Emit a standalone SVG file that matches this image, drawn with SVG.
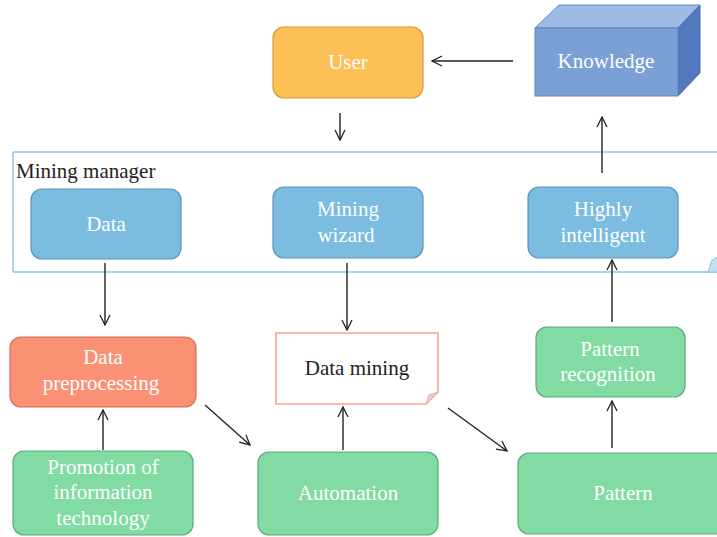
<svg xmlns="http://www.w3.org/2000/svg" width="717" height="537" viewBox="0 0 717 537">
  <defs>
    <marker id="open" viewBox="0 0 12 12" refX="11" refY="6" markerWidth="12" markerHeight="12" markerUnits="userSpaceOnUse" orient="auto">
      <path d="M1,1 L11,6 L1,11" fill="none" stroke="#222" stroke-width="1.3"/>
    </marker>
  </defs>
  <style>
    text { font-family: "Liberation Serif", "DejaVu Serif", serif; font-size: 21px; text-anchor: middle; }
    .w { fill: #ffffff; }
    .k { fill: #222222; }
    .blue { fill: #7bbce0; stroke: #5a95bd; stroke-width: 1.2; }
    .green { fill: #82dba2; stroke: #5aab78; stroke-width: 1.2; }
    .orange { fill: #fdc056; stroke: #d49a3a; stroke-width: 1.2; }
    .salmon { fill: #fb9174; stroke: #d5705a; stroke-width: 1.2; }
    .conn line { stroke: #222; stroke-width: 1.4; marker-end: url(#open); }
  </style>
  <rect width="717" height="537" fill="#ffffff"/>

  <!-- Mining manager frame -->
  <g id="mining-manager">
    <path d="M13,152 L720,152 M720,272 L13,272 Z" fill="none" stroke="#8cc6e8" stroke-width="1.4"/>
    <path d="M13,152 L13,272" stroke="#8cc6e8" stroke-width="1.4"/>
    <path d="M708,272 L712,260 L718,257 L718,272 Z" fill="#c8dff0" stroke="#8cc6e8" stroke-width="1"/>
    <text x="16" y="178" class="k" style="text-anchor:start">Mining manager</text>
  </g>

  <!-- Knowledge cube -->
  <g id="knowledge">
    <polygon points="535,28 559,5 700,5 678,28" fill="#9dbbe3" stroke="#5f86c4" stroke-width="1"/>
    <polygon points="678,28 700,5 700,73 678,96" fill="#5278bd" stroke="#4a6fb0" stroke-width="1"/>
    <rect x="535" y="28" width="143" height="68" fill="#7ba0d6" stroke="#5f86c4" stroke-width="1"/>
    <text x="606" y="68" class="w">Knowledge</text>
  </g>

  <g id="user">
    <rect x="273" y="27" width="150" height="71" rx="11" class="orange"/>
    <text x="348" y="69" class="w">User</text>
  </g>

  <g id="data">
    <rect x="31" y="189" width="150" height="70" rx="11" class="blue"/>
    <text x="106" y="231" class="w">Data</text>
  </g>

  <g id="mining-wizard">
    <rect x="273" y="187" width="150" height="71" rx="11" class="blue"/>
    <text x="348" y="216" class="w">Mining</text>
    <text x="346" y="242" class="w">wizard</text>
  </g>

  <g id="highly-intelligent">
    <rect x="528" y="187" width="150" height="71" rx="11" class="blue"/>
    <text x="603" y="216" class="w">Highly</text>
    <text x="603" y="242" class="w">intelligent</text>
  </g>

  <g id="data-preprocessing">
    <rect x="10" y="337" width="186" height="70" rx="11" class="salmon"/>
    <text x="103" y="364" class="w">Data</text>
    <text x="101" y="390" class="w">preprocessing</text>
  </g>

  <g id="data-mining">
    <path d="M276,333 L438,333 L438,392 L426,404 L276,404 Z" fill="#ffffff" stroke="#f7a48e" stroke-width="1.6"/>
    <path d="M426,404 L429,395 L438,392 Z" fill="#d8d8d8" stroke="#f7a48e" stroke-width="1"/>
    <text x="357" y="375" class="k">Data mining</text>
  </g>

  <g id="pattern-recognition">
    <rect x="536" y="327" width="149" height="70" rx="11" class="green"/>
    <text x="610" y="356" class="w">Pattern</text>
    <text x="608" y="381" class="w">recognition</text>
  </g>

  <g id="promotion">
    <rect x="13" y="451" width="180" height="84" rx="11" class="green"/>
    <text x="103" y="474" class="w">Promotion of</text>
    <text x="103" y="499" class="w">information</text>
    <text x="103" y="525" class="w">technology</text>
  </g>

  <g id="automation">
    <rect x="258" y="452" width="180" height="83" rx="11" class="green"/>
    <text x="348" y="500" class="w">Automation</text>
  </g>

  <g id="pattern">
    <rect x="518" y="453" width="210" height="81" rx="11" class="green"/>
    <text x="623" y="500" class="w">Pattern</text>
  </g>

  <g id="connectors" class="conn">
    <line x1="513" y1="61" x2="432" y2="61"/>
    <line x1="340" y1="113" x2="340" y2="140"/>
    <line x1="602" y1="173" x2="602" y2="117"/>
    <line x1="105" y1="263" x2="105" y2="325"/>
    <line x1="347" y1="263" x2="347" y2="330"/>
    <line x1="612" y1="322" x2="612" y2="260"/>
    <line x1="103" y1="450" x2="103" y2="410"/>
    <line x1="343" y1="450" x2="343" y2="407"/>
    <line x1="612" y1="448" x2="612" y2="401"/>
    <line x1="205" y1="405" x2="250" y2="445"/>
    <line x1="448" y1="408" x2="507" y2="451"/>
  </g>
</svg>
